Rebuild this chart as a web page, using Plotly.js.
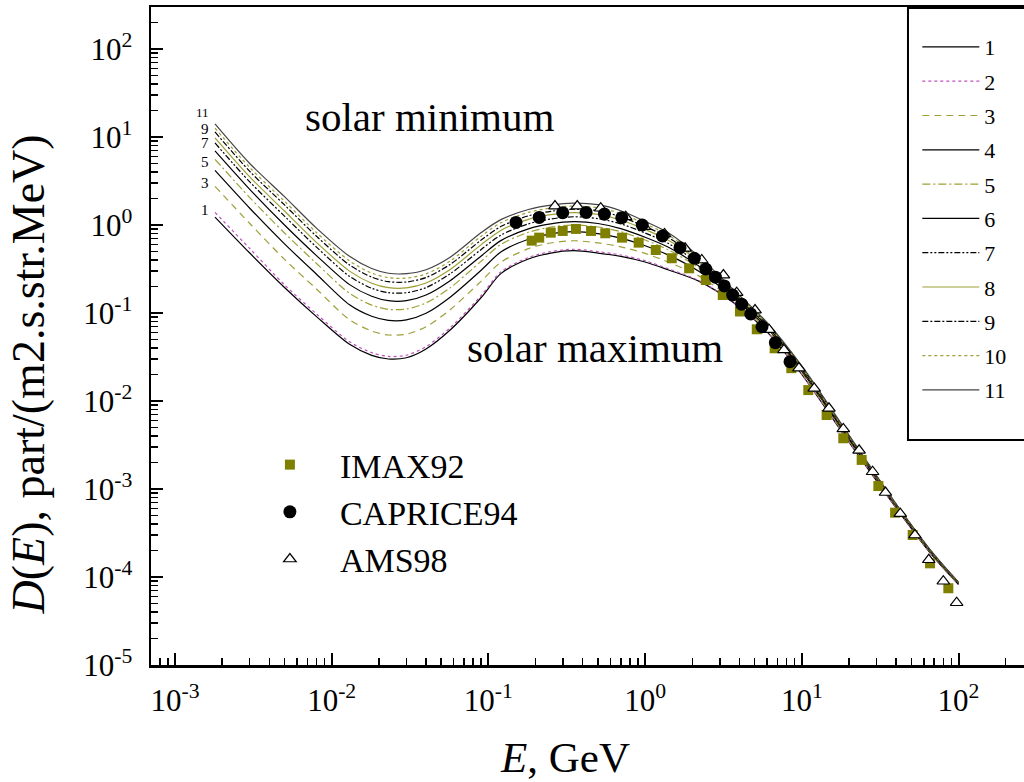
<!DOCTYPE html>
<html><head><meta charset="utf-8">
<script src="https://cdn.plot.ly/plotly-3.0.1.min.js"></script>
<style>html,body{margin:0;padding:0;overflow:hidden;background:#fff;}#chart{width:1060px;height:782px;}</style>
</head><body><div id="chart"></div>
<script>
// ---- data ----
const energyGeV = [0.0018, 0.003, 0.005, 0.008, 0.013, 0.018, 0.023, 0.03, 0.04, 0.057, 0.09, 0.12, 0.18, 0.25, 0.35, 0.5, 0.7, 1.0, 1.4, 2.2, 3.6, 6.0, 10, 20, 42, 69, 100];
const curve1  = [1.23, 0.48, 0.195, 0.091, 0.044, 0.033, 0.030, 0.031, 0.039, 0.064, 0.15, 0.28, 0.41, 0.48, 0.51, 0.48, 0.44, 0.38, 0.31, 0.23, 0.134, 0.061, 0.020, 0.0034, 0.00054, 0.000170, 0.000082];
const curve2  = [1.39, 0.540, 0.209, 0.0975, 0.0471, 0.0354, 0.0321, 0.0331, 0.0415, 0.0678, 0.158, 0.292, 0.427, 0.498, 0.530, 0.498, 0.456, 0.393, 0.319, 0.234, 0.136, 0.0614, 0.0201, 0.00342, 0.00054, 0.000170, 0.000082];
const curve3  = [2.75, 1.04, 0.407, 0.187, 0.0838, 0.0624, 0.0562, 0.0574, 0.0697, 0.109, 0.230, 0.377, 0.538, 0.624, 0.662, 0.625, 0.565, 0.475, 0.380, 0.264, 0.144, 0.0641, 0.0209, 0.00353, 0.000553, 0.000173, 0.000083];
const curve4  = [4.17, 1.55, 0.610, 0.276, 0.124, 0.0918, 0.0824, 0.0834, 0.0991, 0.151, 0.306, 0.493, 0.689, 0.792, 0.840, 0.796, 0.708, 0.581, 0.457, 0.298, 0.154, 0.0673, 0.0219, 0.00366, 0.000562, 0.000176, 0.000084];
const curve5  = [5.58, 2.05, 0.811, 0.365, 0.167, 0.123, 0.110, 0.111, 0.130, 0.193, 0.388, 0.601, 0.826, 0.944, 1.00, 0.948, 0.838, 0.675, 0.524, 0.327, 0.162, 0.0697, 0.0225, 0.00376, 0.000571, 0.000178, 0.000085];
const curve6  = [6.95, 2.54, 1.00, 0.449, 0.210, 0.155, 0.138, 0.138, 0.160, 0.233, 0.445, 0.664, 0.904, 1.03, 1.09, 1.04, 0.910, 0.726, 0.561, 0.341, 0.166, 0.0708, 0.0229, 0.00381, 0.000575, 0.000179, 0.000085];
const curve7  = [8.55, 3.09, 1.26, 0.560, 0.261, 0.191, 0.170, 0.170, 0.194, 0.279, 0.527, 0.767, 1.03, 1.17, 1.24, 1.18, 1.03, 0.811, 0.621, 0.365, 0.172, 0.0726, 0.0234, 0.00388, 0.000582, 0.000181, 0.000086];
const curve8  = [9.77, 3.52, 1.44, 0.635, 0.299, 0.218, 0.194, 0.193, 0.219, 0.312, 0.598, 0.867, 1.16, 1.31, 1.38, 1.32, 1.14, 0.889, 0.675, 0.386, 0.177, 0.0743, 0.0239, 0.00395, 0.000587, 0.000182, 0.000086];
const curve9  = [11.4, 4.07, 1.69, 0.745, 0.351, 0.256, 0.227, 0.225, 0.253, 0.356, 0.675, 0.959, 1.27, 1.43, 1.51, 1.45, 1.24, 0.959, 0.724, 0.405, 0.182, 0.0755, 0.0243, 0.00401, 0.000592, 0.000183, 0.000087];
const curve10 = [12.6, 4.49, 1.86, 0.820, 0.390, 0.284, 0.252, 0.249, 0.278, 0.389, 0.746, 1.06, 1.39, 1.56, 1.64, 1.57, 1.35, 1.03, 0.773, 0.423, 0.186, 0.0767, 0.0247, 0.00406, 0.000596, 0.000184, 0.000087];
const curve11 = [14.1, 5.0, 2.1, 0.92, 0.44, 0.32, 0.283, 0.280, 0.31, 0.43, 0.82, 1.15, 1.50, 1.68, 1.77, 1.70, 1.45, 1.10, 0.82, 0.44, 0.19, 0.078, 0.025, 0.0041, 0.00060, 0.000185, 0.000087];
const curveNames = ['1','2','3','4','5','6','7','8','9','10','11'];

const imaxE    = [0.189, 0.211, 0.250, 0.298, 0.362, 0.452, 0.557, 0.713, 0.910, 1.17, 1.48, 1.91, 2.44, 3.13, 4.03, 5.16, 6.71, 8.57, 11.0, 14.4, 18.4, 24.1, 30.8, 39.4, 51.0, 65.8, 86.1];
const imaxFlux = [0.664, 0.718, 0.818, 0.855, 0.902, 0.855, 0.805, 0.718, 0.630, 0.520, 0.419, 0.322, 0.237, 0.160, 0.104, 0.0653, 0.0397, 0.0236, 0.0133, 0.00693, 0.00377, 0.00214, 0.00108, 0.000538, 0.000300, 0.000143, 0.0000745];
const capriceE    = [0.150, 0.211, 0.298, 0.420, 0.550, 0.710, 0.959, 1.29, 1.67, 2.06, 2.44, 2.81, 3.20, 3.62, 4.13, 4.72, 5.57, 6.78, 8.41];
const capriceFlux = [1.07, 1.22, 1.38, 1.39, 1.33, 1.21, 1.00, 0.750, 0.552, 0.419, 0.316, 0.255, 0.203, 0.160, 0.126, 0.0975, 0.0698, 0.046, 0.028];
const amsE    = [0.266, 0.369, 0.521, 0.752, 0.989, 1.33, 1.80, 2.30, 3.16, 3.84, 5.03, 6.18, 7.69, 9.59, 12.0, 14.9, 18.4, 23.2, 28.3, 34.2, 42.5, 52.7, 64.6, 80.0, 97.3];
const amsFlux = [1.64, 1.64, 1.55, 1.24, 0.957, 0.791, 0.543, 0.400, 0.270, 0.170, 0.108, 0.0646, 0.0380, 0.0236, 0.0139, 0.00826, 0.00481, 0.00275, 0.00157, 0.000912, 0.000524, 0.000300, 0.000157, 0.0000895, 0.000051];

const xTickVals = [0.001, 0.01, 0.1, 1, 10, 100];
const xTickText = ['10<sup>-3</sup>', '10<sup>-2</sup>', '10<sup>-1</sup>', '10<sup>0</sup>', '10<sup>1</sup>', '10<sup>2</sup>'];
const yTickVals = [1e-5, 1e-4, 1e-3, 1e-2, 1e-1, 1, 10, 100];
const yTickText = ['10<sup>-5</sup>', '10<sup>-4</sup>', '10<sup>-3</sup>', '10<sup>-2</sup>', '10<sup>-1</sup>', '10<sup>0</sup>', '10<sup>1</sup>', '10<sup>2</sup>'];

const startLabels = ['11', '9', '7', '5', '3', '1'];

// ---- styles ----
const curves = [curve1, curve2, curve3, curve4, curve5, curve6, curve7, curve8, curve9, curve10, curve11];
const OLIVE_LINE = '#9f9f38';
const curveColors = ['#000000', '#c050c0', OLIVE_LINE, '#000000', OLIVE_LINE, '#000000', '#000000', OLIVE_LINE, '#000000', OLIVE_LINE, '#444444'];
const curveDash = ['solid', 'dot', '7px,5px', 'solid', '8px,3px,2px,3px', 'solid', '6px,2px,2px,2px,2px,2px', 'solid', '6px,2px,2px,2px', 'dot', 'solid'];
const startLabelShift = [11, 3, 0, -3, 3, 7];
const startLabelSize = [13, 15, 15, 15, 15, 15];
const FONT = 'Liberation Serif, Times New Roman, serif';

function minorVals(lo, hi) {
  const v = [];
  for (let p = lo; p < hi; p++) for (let m = 2; m <= 9; m++) v.push(m * Math.pow(10, p));
  return v;
}

const traces = [];
curves.forEach((c, i) => {
  traces.push({
    x: energyGeV, y: c, type: 'scatter', mode: 'lines', name: curveNames[i],
    line: {color: curveColors[i], width: 1.2, dash: curveDash[i], shape: 'spline', smoothing: 0.8},
    legend: 'legend', legendgroup: 'g' + i, hoverinfo: 'skip'
  });
});
traces.push({x: imaxE, y: imaxFlux, type: 'scatter', mode: 'markers', name: 'IMAX92',
  marker: {symbol: 'square', size: 10, color: '#808000', line: {width: 0}},
  legend: 'legend2', legendgroup: 'imax', legendrank: 1});
traces.push({x: amsE, y: amsFlux, type: 'scatter', mode: 'markers', name: 'AMS98',
  marker: {symbol: 'triangle-up', size: 11, color: '#ffffff', line: {width: 1.2, color: '#000000'}},
  legend: 'legend2', legendgroup: 'ams', legendrank: 3});
traces.push({x: capriceE, y: capriceFlux, type: 'scatter', mode: 'markers', name: 'CAPRICE94',
  marker: {symbol: 'circle', size: 13, color: '#000000', line: {width: 0}},
  legend: 'legend2', legendgroup: 'caprice', legendrank: 2});

const annotations = [
  {text: 'solar minimum', xref: 'x', yref: 'y', x: -2.183, y: 1.23, xanchor: 'left', yanchor: 'middle', showarrow: false, font: {family: FONT, size: 41, color: '#000'}},
  {text: 'solar maximum', xref: 'x', yref: 'y', x: -1.149, y: -1.40, xanchor: 'left', yanchor: 'middle', showarrow: false, font: {family: FONT, size: 41, color: '#000'}},
  {text: '<i>E</i>, GeV', xref: 'paper', yref: 'paper', x: 0.4657, y: -0.140, xanchor: 'center', yanchor: 'middle', showarrow: false, font: {family: FONT, size: 43, color: '#000'}},
  {text: '<i>D</i>(<i>E</i>), part/(m2.s.str.MeV)', xref: 'paper', yref: 'paper', x: -0.138, y: 0.442, xanchor: 'center', yanchor: 'middle', textangle: -90, showarrow: false, font: {family: FONT, size: 46, color: '#000'}}
];
startLabels.forEach((lab, j) => {
  const idx = parseInt(lab, 10) - 1;
  annotations.push({text: lab, xref: 'x', yref: 'y', x: Math.log10(energyGeV[0]), y: Math.log10(curves[idx][0]),
    xanchor: 'right', yanchor: 'middle', xshift: -4, yshift: startLabelShift[j], showarrow: false,
    font: {family: FONT, size: startLabelSize[j], color: '#000'}});
});

const axisCommon = {
  type: 'log', showgrid: false, zeroline: false, showline: true, linecolor: '#000', linewidth: 2.5, mirror: true,
  ticks: 'inside', ticklen: 12, tickwidth: 2, tickcolor: '#000', tickmode: 'array',
  tickfont: {family: FONT, size: 31, color: '#000'}
};

const layout = {
  width: 1060, height: 782,
  margin: {l: 151, r: 20, t: 7, b: 117},
  paper_bgcolor: '#fff', plot_bgcolor: '#fff',
  font: {family: FONT, color: '#000'},
  xaxis: Object.assign({}, axisCommon, {
    range: [-3.153, 2.520], tickvals: xTickVals, ticktext: xTickText, ticklabelstandoff: 6,
    minor: {tickmode: 'array', tickvals: minorVals(-4, 3), ticks: 'inside', ticklen: 7, tickwidth: 1.5, tickcolor: '#000'}
  }),
  yaxis: Object.assign({}, axisCommon, {
    range: [-5, 2.477], tickvals: yTickVals, ticktext: yTickText, ticklabelstandoff: 10,
    minor: {tickmode: 'array', tickvals: minorVals(-5, 3), ticks: 'inside', ticklen: 7, tickwidth: 1.5, tickcolor: '#000'}
  }),
  showlegend: true,
  legend: {x: 0.862, y: 0.971, xanchor: 'left', yanchor: 'top', bgcolor: 'rgba(0,0,0,0)', borderwidth: 0,
    traceorder: 'grouped', tracegroupgap: 2.7, itemwidth: 57,
    font: {family: FONT, size: 22, color: '#000'}},
  legend2: {x: 0.100, y: 0.348, xanchor: 'left', yanchor: 'top', bgcolor: 'rgba(0,0,0,0)', borderwidth: 0,
    traceorder: 'normal', itemwidth: 90, itemsizing: 'trace',
    font: {family: FONT, size: 34, color: '#000'}},
  shapes: [{type: 'rect', xref: 'paper', yref: 'paper', x0: 0.8515, x1: 1.3, y0: 0.342, y1: 0.9985,
    line: {color: '#000', width: 2}, fillcolor: 'rgba(0,0,0,0)', layer: 'above'}],
  annotations: annotations
};

Plotly.newPlot('chart', traces, layout, {displayModeBar: false, staticPlot: true});
</script></body></html>
